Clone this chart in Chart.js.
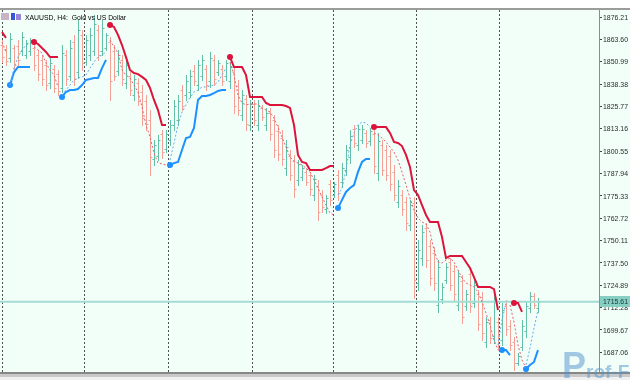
<!DOCTYPE html>
<html>
<head>
<meta charset="utf-8">
<script src="https://cdn.jsdelivr.net/npm/chart.js@4"></script>
<style>
  body { margin: 0; background: #f2fff9; }
  canvas { display: block; }
</style>
</head>
<body>
<canvas id="myChart" width="630" height="380"></canvas>
<script>
// XAUUSD H4 bars
const opens = [1860.5,1858.0,1853.0,1858.5,1860.0,1857.0,1855.0,1857.0,1859.0,1855.0,1852.0,1849.0,1839.0,1847.0,1844.0,1836.0,1855.0,1843.0,1862.0,1845.0,1866.0,1851.0,1855.0,1857.0,1869.0,1857.0,1859.0,1862.0,1857.0,1846.0,1852.0,1839.0,1843.0,1832.0,1839.0,1834.0,1829.0,1818.0,1796.0,1798.0,1810.0,1802.0,1807.0,1815.0,1818.0,1835.0,1832.0,1834.0,1846.0,1838.0,1843.0,1847.0,1840.0,1852.0,1845.0,1847.0,1843.0,1840.0,1845.0,1837.0,1821.0,1830.0,1815.0,1827.0,1815.0,1825.0,1815.0,1822.0,1818.0,1812.0,1808.0,1791.0,1798.0,1795.0,1784.0,1786.0,1789.0,1787.0,1776.0,1781.0,1776.0,1768.0,1782.0,1776.0,1787.0,1783.0,1790.0,1797.0,1813.0,1804.0,1807.0,1811.0,1806.0,1810.0,1788.0,1804.0,1801.0,1798.0,1789.0,1772.0,1776.0,1772.0,1759.0,1771.0,1726.0,1740.0,1757.0,1747.0,1743.0,1714.0,1717.0,1728.0,1738.0,1733.0,1714.0,1727.0,1713.0,1731.0,1715.0,1720.0,1718.0,1693.0,1705.0,1696.0,1704.0,1694.0,1713.0,1702.0,1693.0,1681.0,1690.0,1699.0,1712.0,1719.0,1712.0];
const highs = [1863.2,1860.4,1867.2,1860.4,1863.2,1867.7,1863.2,1864.4,1860.4,1857.6,1854.8,1852.0,1853.1,1849.1,1846.3,1860.4,1857.6,1863.2,1866.1,1874.5,1868.9,1866.1,1870.0,1877.3,1871.7,1874.5,1867.2,1864.9,1860.4,1857.6,1854.8,1852.0,1845.2,1843.5,1841.8,1837.8,1832.2,1823.7,1806.8,1809.6,1812.5,1812.5,1818.1,1829.4,1832.2,1837.8,1843.5,1846.3,1849.1,1852.0,1854.8,1849.1,1856.5,1854.8,1852.0,1849.1,1852.0,1850.8,1847.4,1840.7,1835.0,1832.2,1829.4,1829.4,1829.4,1826.6,1824.9,1824.9,1820.9,1815.3,1812.5,1806.8,1801.2,1798.4,1795.5,1792.7,1791.0,1788.8,1787.1,1784.2,1778.6,1775.8,1784.2,1783.1,1789.9,1793.8,1804.0,1812.5,1815.3,1815.3,1815.3,1812.5,1813.6,1812.5,1810.8,1806.8,1804.0,1801.2,1792.7,1784.2,1778.6,1774.7,1773.0,1774.7,1750.4,1758.9,1760.0,1750.4,1746.4,1739.1,1726.1,1737.4,1740.2,1736.3,1733.5,1730.6,1722.2,1733.5,1727.8,1722.2,1721.1,1707.0,1707.0,1720.5,1707.0,1714.9,1716.5,1705.3,1695.7,1686.6,1705.3,1715.4,1721.1,1720.5,1717.7];
const lows = [1850.8,1849.1,1850.8,1846.3,1849.1,1854.8,1853.1,1854.8,1846.3,1840.7,1837.8,1835.0,1836.2,1833.9,1832.2,1833.9,1837.8,1840.7,1837.8,1841.8,1846.3,1849.1,1852.0,1854.8,1852.0,1854.8,1857.6,1829.4,1840.7,1843.5,1837.8,1836.2,1832.2,1829.4,1826.6,1815.3,1812.5,1787.1,1792.7,1795.5,1796.7,1800.0,1804.0,1812.5,1815.3,1823.7,1829.4,1831.1,1837.8,1835.0,1840.7,1835.0,1836.7,1837.8,1843.5,1837.8,1840.7,1836.2,1822.0,1820.9,1818.1,1812.5,1812.5,1815.3,1812.5,1818.1,1812.5,1806.8,1797.2,1795.5,1792.7,1787.1,1784.2,1774.7,1781.4,1784.2,1781.4,1775.8,1773.0,1761.7,1766.2,1765.6,1770.1,1774.7,1773.0,1780.3,1787.1,1793.8,1802.9,1801.2,1805.1,1802.9,1804.0,1788.2,1784.2,1787.1,1784.2,1778.6,1773.0,1769.0,1764.5,1756.0,1756.0,1717.7,1722.2,1736.3,1735.2,1725.0,1722.2,1709.8,1714.9,1726.1,1722.2,1716.5,1710.9,1703.6,1710.9,1709.8,1712.6,1699.6,1694.0,1690.0,1692.3,1692.3,1688.3,1691.2,1696.8,1688.3,1677.1,1679.9,1688.3,1695.7,1709.8,1712.0,1709.8];
const closes = [1853.5,1851.5,1864.0,1849.0,1852.0,1865.0,1861.5,1863.0,1849.0,1844.0,1841.0,1838.0,1850.5,1836.0,1834.5,1856.0,1841.0,1859.0,1841.0,1869.0,1850.0,1863.0,1866.0,1872.0,1855.0,1870.0,1866.0,1840.0,1843.0,1855.0,1841.0,1849.0,1835.0,1841.0,1829.0,1819.0,1816.0,1797.0,1804.0,1807.0,1800.0,1810.0,1815.0,1826.0,1829.0,1826.0,1840.0,1843.0,1840.0,1849.0,1852.0,1838.0,1853.0,1841.0,1850.0,1840.0,1850.0,1848.0,1826.0,1824.0,1832.0,1816.0,1827.0,1818.0,1826.0,1820.0,1822.0,1810.0,1801.0,1799.0,1796.0,1803.0,1787.0,1779.0,1793.0,1791.0,1783.0,1779.0,1785.0,1766.0,1769.0,1774.0,1773.0,1782.0,1777.0,1791.0,1801.0,1809.0,1805.0,1813.0,1813.0,1805.0,1812.0,1792.0,1806.0,1790.0,1787.0,1782.0,1776.0,1781.0,1768.0,1760.0,1770.0,1728.0,1745.0,1755.0,1739.0,1729.0,1726.0,1735.0,1724.0,1735.0,1725.0,1720.0,1730.0,1707.0,1720.0,1713.0,1725.0,1703.0,1698.0,1704.0,1695.0,1716.0,1691.0,1711.0,1700.0,1691.0,1681.0,1685.0,1702.0,1713.0,1719.0,1713.5,1715.61];

// trailing stop lines: [first bar index, values]
const redStop = [
  [0, [1867.7, 1864.4]],
  [8, [1862.1, 1861.0, 1858.7, 1856.5, 1853.6, 1853.6, 1853.6]],
  [27, [1871.7, 1870.6, 1866.1, 1860.4, 1853.6, 1846.3, 1844.6, 1844.0, 1842.4, 1840.7, 1836.2, 1829.4, 1823.7, 1815.3, 1815.3]],
  [57, [1853.6, 1848.0, 1848.0, 1848.0, 1843.5, 1831.1, 1831.1, 1831.1, 1831.1, 1827.7, 1826.6, 1826.6, 1826.6, 1826.6, 1826.0, 1824.9, 1815.3, 1798.4, 1794.4, 1793.8, 1789.9, 1789.9, 1789.9, 1789.9, 1791.0, 1792.1, 1792.1]],
  [93, [1814.1, 1814.1, 1814.1, 1814.1, 1810.8, 1805.7, 1805.1, 1803.4, 1798.4, 1791.6, 1778.6, 1775.8, 1770.1, 1764.5, 1760.6, 1760.6, 1760.6, 1752.1, 1740.2, 1741.4, 1741.4, 1741.4, 1741.4, 1738.0, 1734.6, 1729.5, 1723.9, 1723.9, 1723.9, 1723.9, 1722.7, 1710.9]],
  [128, [1714.9, 1714.9, 1709.8]]
];
const blueStop = [
  [2, [1837.8, 1845.0, 1848.0, 1848.0, 1848.0, 1848.0]],
  [15, [1831.1, 1833.9, 1835.0, 1835.0, 1835.6, 1837.8, 1840.7, 1841.2, 1841.8, 1841.8, 1847.4, 1852.0]],
  [42, [1792.7, 1793.8, 1794.4, 1801.2, 1807.9, 1808.5, 1813.6, 1829.4, 1831.6, 1831.6, 1832.2, 1833.3, 1834.5, 1835.0, 1835.0]],
  [84, [1768.4, 1773.0, 1777.5, 1779.7, 1781.4, 1788.8, 1794.4, 1796.1, 1796.1]],
  [125, [1688.3, 1688.3, 1685.5]],
  [131, [1677.6, 1679.9, 1681.6, 1688.3]]
];
// dotted lines
const redDots = [
  [0, [1862.1, 1856.5]],
  [8, [1859.3, 1857.6, 1855.9, 1850.2, 1846.3, 1843.5, 1836.7]],
  [27, [1863.2, 1859.3, 1855.9, 1846.3, 1843.5, 1841.8, 1837.8, 1833.9, 1825.4, 1815.3, 1808.5, 1799.5, 1793.8, 1793.3, 1792.7]],
  [57, [1850.8, 1843.5, 1832.2, 1827.7, 1826.6, 1827.1, 1827.1, 1827.1, 1824.9, 1823.7, 1822.6, 1819.2, 1814.1, 1808.5, 1802.9, 1797.2, 1795.0, 1793.8, 1792.7, 1791.0, 1788.8, 1784.2, 1779.7, 1774.7, 1770.1, 1765.6, 1764.5]],
  [93, [1810.8, 1809.6, 1807.9, 1805.7, 1802.9, 1800.0, 1795.5, 1788.8, 1781.4, 1774.1, 1767.3, 1762.8, 1760.6, 1759.4, 1754.9, 1744.7, 1738.0, 1737.4, 1739.1, 1740.2, 1738.0, 1733.5, 1729.0, 1726.1, 1725.0, 1723.9, 1721.1, 1715.4, 1709.2, 1702.4, 1694.0, 1688.3]],
  [127, [1713.7, 1704.1, 1691.2, 1682.7, 1678.2]]
];
const blueDots = [
  [2, [1837.8, 1847.4, 1853.6, 1857.6, 1860.4, 1861.5]],
  [15, [1832.2, 1835.0, 1837.8, 1840.7, 1841.8, 1842.4, 1843.5, 1847.4, 1850.8, 1853.6, 1854.8, 1856.5]],
  [42, [1795.5, 1805.1, 1815.3, 1822.6, 1826.6, 1830.5, 1833.9, 1835.0, 1836.7, 1836.7, 1837.3, 1837.8, 1839.5, 1843.5, 1847.4]],
  [84, [1775.8, 1779.7, 1789.9, 1804.0, 1810.8, 1815.3, 1817.0, 1816.4, 1814.1]],
  [124, [1691.2, 1705.3, 1714.9]],
  [131, [1679.9, 1689.5, 1700.7, 1710.9]]
];

const yTicks = [1876.21, 1863.60, 1850.99, 1838.38, 1825.77, 1813.16, 1800.55, 1787.94, 1775.33, 1762.72, 1750.11, 1737.50, 1724.89, 1712.28, 1699.67, 1687.06];
const gridBars = [0, 20.75, 41.5, 62.5, 82.75, 103.5, 124.25];
const lastPrice = 1715.61;
const title = "XAUUSD, H4:  Gold vs US Dollar";

const nBars = closes.length;

function toPoints(segs) {
  const pts = [];
  for (let i = 0; i < nBars; i++) pts.push({ x: i, y: null });
  segs.forEach(([start, vals]) => {
    vals.forEach((v, k) => { pts[start + k].y = v; });
  });
  return pts;
}

// big dot where a stop segment begins
function startDot(c) {
  const d = c.dataset.data;
  const i = c.dataIndex;
  if (i > 0 && d[i] && d[i].y != null && d[i - 1].y == null) return 3;
  return 0;
}

const ohlcPlugin = {
  id: "ohlc",
  beforeDraw(chart) {
    const ctx = chart.ctx;
    ctx.save();
    ctx.fillStyle = "#f2fff9";
    ctx.fillRect(0, 0, chart.width, chart.height);
    ctx.restore();
  },
  beforeDatasetsDraw(chart) {
    const ctx = chart.ctx;
    const xs = chart.scales.x, ys = chart.scales.y;
    const area = chart.chartArea;
    ctx.save();
    ctx.lineWidth = 1;
    for (let i = 0; i < nBars; i++) {
      const up = closes[i] >= opens[i];
      ctx.strokeStyle = up ? "#63bfa6" : "#f4a096";
      const px = Math.round(xs.getPixelForValue(i)) + 0.5;
      const yh = Math.round(ys.getPixelForValue(highs[i]));
      const yl = Math.round(ys.getPixelForValue(lows[i]));
      const yo = Math.round(ys.getPixelForValue(opens[i])) + 0.5;
      const yc = Math.round(ys.getPixelForValue(closes[i])) + 0.5;
      ctx.beginPath();
      ctx.moveTo(px, yh);
      ctx.lineTo(px, yl + 1);
      ctx.moveTo(px - 2, yo);
      ctx.lineTo(px, yo);
      ctx.moveTo(px, yc);
      ctx.lineTo(px + 2, yc);
      ctx.stroke();
    }
    // bid line
    const yb = ys.getPixelForValue(lastPrice);
    ctx.strokeStyle = "#a3dcd3";
    ctx.lineWidth = 2;
    ctx.beginPath();
    ctx.moveTo(area.left, yb);
    ctx.lineTo(area.right, yb);
    ctx.stroke();
    ctx.restore();
  },
  afterDraw(chart) {
    const ctx = chart.ctx;
    const ys = chart.scales.y;
    const area = chart.chartArea;
    ctx.save();
    // window frame top / bottom
    ctx.fillStyle = "#ffffff";
    ctx.fillRect(0, 0, chart.width, 8);
    ctx.fillStyle = "#9c9c9c";
    ctx.fillRect(0, 8, chart.width, 2);
    ctx.fillStyle = "#878787";
    ctx.fillRect(0, area.bottom, chart.width, 2);
    ctx.fillStyle = "#c9c9c9";
    ctx.fillRect(0, area.bottom + 2, chart.width, 3);
    ctx.fillStyle = "#f0f0f0";
    ctx.fillRect(0, area.bottom + 5, chart.width, chart.height - area.bottom - 5);

    // price labels
    ctx.font = "8px 'Liberation Sans'";
    ctx.fillStyle = "#2a2a2a";
    ctx.textBaseline = "middle";
    yTicks.forEach(v => {
      ctx.fillText(v.toFixed(2), area.right + 4, ys.getPixelForValue(v) + 0.5, 25);
    });
    const yb = ys.getPixelForValue(lastPrice);
    ctx.fillStyle = "#86cfc2";
    ctx.fillRect(area.right + 1, Math.round(yb) - 6, 31, 11);
    ctx.fillStyle = "#17323a";
    ctx.fillText(lastPrice.toFixed(2), area.right + 4, yb, 25);

    // title + icon
    ctx.fillStyle = "#c9b3c4";
    ctx.fillRect(1, 13, 8, 7);
    ctx.fillStyle = "#3556d6";
    ctx.fillRect(11, 13, 4, 7);
    ctx.fillStyle = "#9a86d8";
    ctx.fillRect(16, 14, 5, 6);
    ctx.fillStyle = "#000";
    ctx.textBaseline = "alphabetic";
    ctx.fillText(title, 25, 20, 101);

    // watermark
    ctx.fillStyle = "rgba(80,145,205,0.5)";
    ctx.font = "bold 36px 'Liberation Sans'";
    ctx.fillText("P", 562, 378);
    ctx.font = "bold 19px 'Liberation Sans'";
    ctx.fillText("rof-F", 586, 378, 44);
    ctx.restore();
  }
};

const ctx = document.getElementById("myChart").getContext("2d");
const myChart = new Chart(ctx, {
  type: "line",
  data: {
    datasets: [
      {
        data: toPoints(redDots),
        borderColor: "#ea5d74",
        borderWidth: 1,
        borderDash: [2, 2],
        pointRadius: 0,
        spanGaps: false
      },
      {
        data: toPoints(blueDots),
        borderColor: "#63acf4",
        borderWidth: 1,
        borderDash: [2, 2],
        pointRadius: 0,
        spanGaps: false
      },
      {
        data: toPoints(redStop),
        borderColor: "#dc143c",
        backgroundColor: "#dc143c",
        borderWidth: 2,
        pointRadius: startDot,
        pointBorderWidth: 0,
        spanGaps: false
      },
      {
        data: toPoints(blueStop),
        borderColor: "#1e90ff",
        backgroundColor: "#1e90ff",
        borderWidth: 2,
        pointRadius: startDot,
        pointBorderWidth: 0,
        spanGaps: false
      }
    ]
  },
  options: {
    responsive: false,
    animation: false,
    devicePixelRatio: 1,
    layout: { padding: { top: 10, bottom: 8, left: 0, right: 0 } },
    scales: {
      x: {
        type: "linear",
        min: -0.5,
        max: 149.25,
        ticks: { display: false },
        grid: { color: "#505050", lineWidth: 1, drawTicks: false },
        border: { display: false, dash: [2, 2] },
        afterBuildTicks: s => { s.ticks = gridBars.map(v => ({ value: v })); },
        afterFit: s => { s.height = 0; }
      },
      y: {
        type: "linear",
        position: "right",
        min: 1675.92,
        max: 1880.16,
        ticks: { display: false },
        grid: { drawOnChartArea: false, drawTicks: true, tickLength: 3, color: "#444" },
        border: { display: true, color: "#8c8c8c", width: 1 },
        afterBuildTicks: s => { s.ticks = yTicks.map(v => ({ value: v })); },
        afterFit: s => { s.width = 31; }
      }
    },
    plugins: {
      legend: { display: false },
      title: { display: false },
      tooltip: { enabled: false }
    }
  },
  plugins: [ohlcPlugin]
});
</script>
</body>
</html>
